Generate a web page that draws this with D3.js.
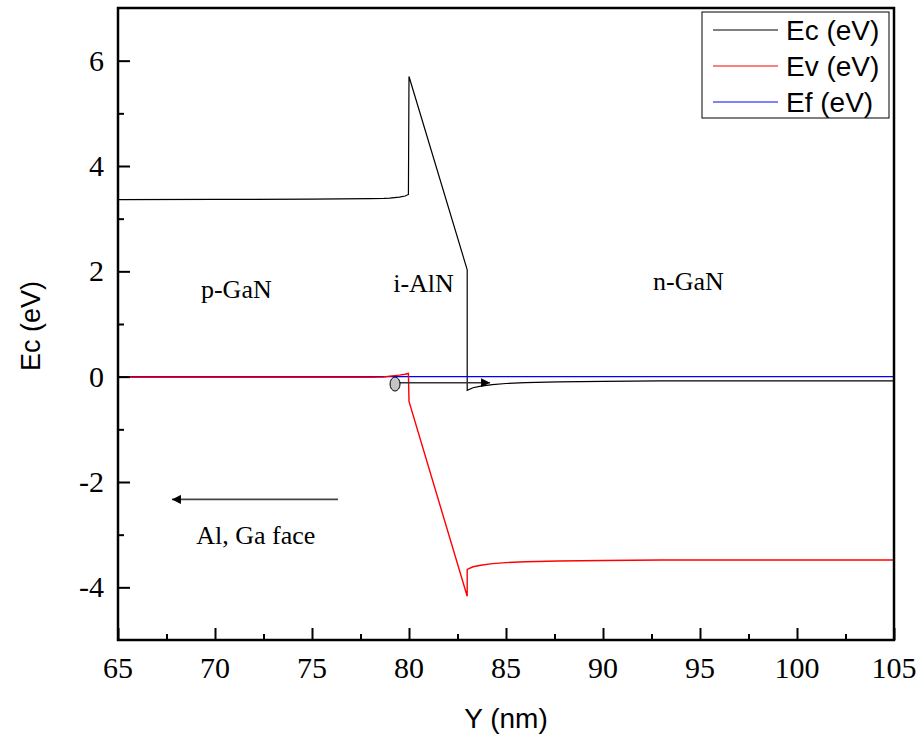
<!DOCTYPE html>
<html><head><meta charset="utf-8">
<script src="https://cdn.jsdelivr.net/npm/d3@7"></script>
<style>body{margin:0;background:#fff}svg{display:block}</style>
</head><body>
<svg id="c" width="922" height="738"></svg>
<script>
// ---- data ----
const xPos = [65, 70, 75, 78, 78.7, 79, 79.5, 79.8, 79.97, 80.0, 83.0, 83.0, 83.3, 83.7, 84.3, 85, 86, 87.7, 90, 93, 100, 105];
const ecVals = [3.36, 3.365, 3.37, 3.38, 3.385, 3.39, 3.41, 3.43, 3.46, 5.70, 2.03, -0.26, -0.21, -0.18, -0.15, -0.13, -0.115, -0.10, -0.09, -0.08, -0.08, -0.08];
const evVals = [-0.01, -0.01, -0.01, -0.01, -0.005, 0.01, 0.03, 0.045, 0.06, -0.47, -4.17, -3.66, -3.61, -3.58, -3.55, -3.53, -3.515, -3.50, -3.49, -3.48, -3.48, -3.48];
const efX = [65, 105];
const efVals = [0, 0];
const xTicks = [65, 70, 75, 80, 85, 90, 95, 100, 105];
const yTicks = [-4, -2, 0, 2, 4, 6];
const xMinorTicks = [67.5, 72.5, 77.5, 82.5, 87.5, 92.5, 97.5, 102.5];
const yMinorTicks = [-3, -1, 1, 3, 5];
const seriesNames = ["Ec (eV)", "Ev (eV)", "Ef (eV)"];
const seriesColors = ["#000000", "#ff0000", "#0000ff"];
const regionLabels = [{t: "p-GaN", x: 71.1, y: 1.5}, {t: "i-AlN", x: 80.75, y: 1.6}, {t: "n-GaN", x: 94.4, y: 1.65}];
const electron = {x: 79.28, y: -0.14};
const driftArrow = {x1: 79.3, x2: 84.18, y: -0.115};
const faceArrow = {x1: 76.34, x2: 67.78, y: -2.33, label: "Al, Ga face", lx: 72.1, ly: -3.18};

// ---- layout ----
const L = 118, R = 894, T = 8, B = 640;
const SERIF = "'Liberation Serif', 'Times New Roman', serif";
const SANS = "'Liberation Sans', Arial, sans-serif";
const svg = d3.select("#c");
const x = d3.scaleLinear().domain([65, 105]).range([L, R]);
const y = d3.scaleLinear().domain([-5, 7]).range([B, T]);

const line = d3.line().x(d => x(d[0])).y(d => y(d[1]));
const ecData = xPos.map((v, i) => [v, ecVals[i]]);
const evData = xPos.map((v, i) => [v, evVals[i]]);
const efData = efX.map((v, i) => [v, efVals[i]]);

svg.append("defs").html(
  '<marker id="ah" viewBox="0 0 10 10" refX="10" refY="5" markerWidth="16" markerHeight="9" markerUnits="userSpaceOnUse" orient="auto"><path d="M0,0 L10,5 L0,10 z" fill="#000"/></marker>');

const plot = svg.append("g");
plot.append("path").datum(ecData).attr("d", line).attr("fill", "none").attr("stroke", seriesColors[0]).attr("stroke-width", 1.2);
plot.append("path").datum(efData).attr("d", line).attr("fill", "none").attr("stroke", seriesColors[2]).attr("stroke-width", 1.2);
plot.append("path").datum(evData).attr("d", line).attr("fill", "none").attr("stroke", seriesColors[1]).attr("stroke-width", 1.4);

// drift arrow
plot.append("line").attr("x1", x(driftArrow.x1)).attr("x2", x(driftArrow.x2))
  .attr("y1", y(driftArrow.y)).attr("y2", y(driftArrow.y))
  .attr("stroke", "#333").attr("stroke-width", 1.6).attr("marker-end", "url(#ah)");
plot.append("ellipse").attr("cx", x(electron.x)).attr("cy", y(electron.y)).attr("rx", 5).attr("ry", 7)
  .attr("fill", "#c4c4c4").attr("stroke", "#000").attr("stroke-width", 1);

// face arrow
plot.append("line").attr("x1", x(faceArrow.x1)).attr("x2", x(faceArrow.x2))
  .attr("y1", y(faceArrow.y)).attr("y2", y(faceArrow.y))
  .attr("stroke", "#444").attr("stroke-width", 1.6).attr("marker-end", "url(#ah)");
svg.append("text").attr("x", x(faceArrow.lx)).attr("y", y(faceArrow.ly)).attr("text-anchor", "middle")
  .attr("font-family", SERIF).attr("font-size", 26).text(faceArrow.label);

regionLabels.forEach(r => {
  svg.append("text").attr("x", x(r.x)).attr("y", y(r.y)).attr("text-anchor", "middle")
    .attr("font-family", SERIF).attr("font-size", 26).text(r.t);
});

// axes (tick marks via d3 axis, labels drawn with the same scales)
const xAxis = d3.axisBottom(x).tickValues(xTicks).tickFormat("").tickSizeInner(-12).tickSizeOuter(0);
const xMinor = d3.axisBottom(x).tickValues(xMinorTicks).tickSizeInner(-6).tickSizeOuter(0).tickFormat("");
const yAxis = d3.axisLeft(y).tickValues(yTicks).tickFormat("").tickSizeInner(-12).tickSizeOuter(0);
const yMinor = d3.axisLeft(y).tickValues(yMinorTicks).tickSizeInner(-6).tickSizeOuter(0).tickFormat("");

function styleAxis(g) {
  g.selectAll("path.domain").remove();
  g.selectAll("line").attr("stroke", "#000").attr("stroke-width", 2);
}
svg.append("g").attr("transform", `translate(0,${B})`).call(xAxis).call(styleAxis);
svg.append("g").attr("transform", `translate(0,${B})`).call(xMinor).call(styleAxis);
svg.append("g").attr("transform", `translate(${L},0)`).call(yAxis).call(styleAxis);
svg.append("g").attr("transform", `translate(${L},0)`).call(yMinor).call(styleAxis);

svg.append("g").selectAll("text").data(xTicks).join("text")
  .attr("x", d => x(d)).attr("y", B + 38).attr("text-anchor", "middle")
  .attr("font-family", SERIF).attr("font-size", 30).attr("fill", "#000").text(d => String(d));
svg.append("g").selectAll("text").data(yTicks).join("text")
  .attr("x", L - 14).attr("y", d => y(d) + 10).attr("text-anchor", "end")
  .attr("font-family", SERIF).attr("font-size", 30).attr("fill", "#000").text(d => String(d));

svg.append("rect").attr("x", L).attr("y", T).attr("width", R - L).attr("height", B - T)
  .attr("fill", "none").attr("stroke", "#000").attr("stroke-width", 2.5);

// axis titles
svg.append("text").attr("x", 506).attr("y", 728).attr("text-anchor", "middle")
  .attr("font-family", SANS).attr("font-size", 28).text("Y (nm)");
svg.append("text").attr("transform", `translate(40,326) rotate(-90)`).attr("text-anchor", "middle")
  .attr("font-family", SANS).attr("font-size", 27).text("Ec (eV)");

// legend
const lg = svg.append("g");
lg.append("rect").attr("x", 702).attr("y", 12).attr("width", 187).attr("height", 106)
  .attr("fill", "#fff").attr("stroke", "#000").attr("stroke-width", 1);
seriesNames.forEach((n, i) => {
  const yy = 30 + i * 36;
  lg.append("line").attr("x1", 713).attr("x2", 778).attr("y1", yy).attr("y2", yy)
    .attr("stroke", seriesColors[i]).attr("stroke-width", 1.2);
  lg.append("text").attr("x", 786).attr("y", yy + 10)
    .attr("font-family", SANS).attr("font-size", 28).text(n);
});
</script>
</body></html>
